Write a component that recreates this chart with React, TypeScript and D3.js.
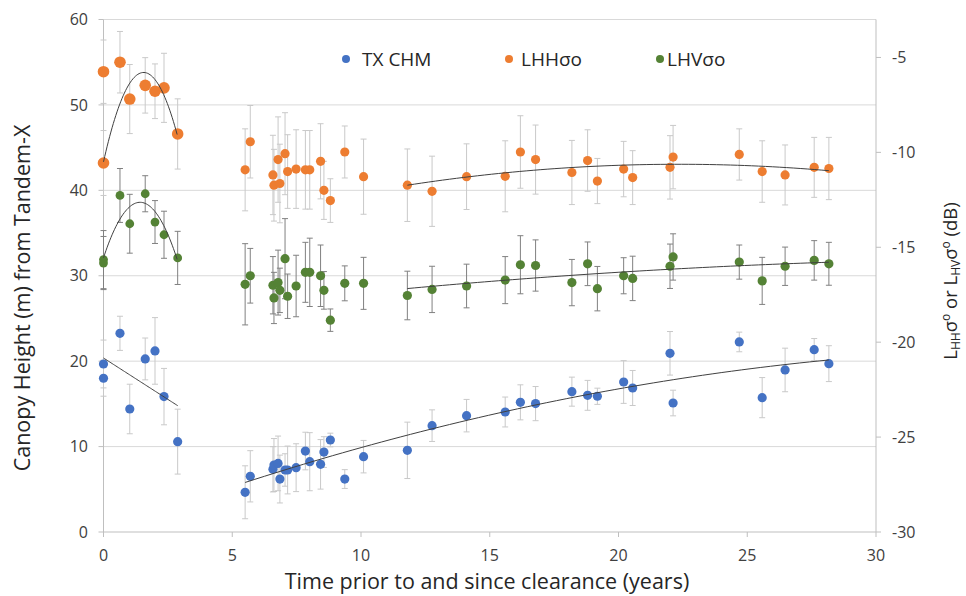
import React from "react";
import * as d3 from "d3";

// ---------- data ----------
const xTicks = [0, 5, 10, 15, 20, 25, 30];
const leftTicks = [0, 10, 20, 30, 40, 50, 60];
const rightTicks = [-30, -25, -20, -15, -10, -5];

const earlyX = [0, 0, 0.64, 1.02, 1.62, 2.0, 2.35, 2.88];
const lateX = [5.5, 5.7, 6.58, 6.62, 6.78, 6.85, 7.05, 7.15, 7.48, 7.84, 8.01, 8.43, 8.56, 8.81, 9.37, 10.1, 11.8, 12.76, 14.1, 15.6, 16.19, 16.78, 18.19, 18.8, 19.18, 20.2, 20.55, 22.0, 22.12, 24.69, 25.58, 26.47, 27.6, 28.17];

// TX CHM canopy height (m) - left axis
const chmEarly = [19.67, 18.0, 23.26, 14.4, 20.26, 21.2, 15.85, 10.58];
const chmEarlyErr = [2.8, 2.1, 2.0, 2.9, 2.45, 3.9, 3.3, 3.8];
const chmLate = [4.65, 6.52, 7.34, 7.84, 8.03, 6.2, 7.26, 7.26, 7.53, 9.48, 8.23, 7.92, 9.36, 10.77, 6.2, 8.82, 9.56, 12.45, 13.62, 14.05, 15.18, 15.03, 16.43, 16.0, 15.89, 17.56, 16.86, 20.92, 15.1, 22.25, 15.73, 18.97, 21.35, 19.71];
const chmLateErr = [3.1, 3.0, 2.65, 3.1, 3.2, 2.8, 1.9, 2.8, 2.8, 2.2, 3.4, 2.9, 1.8, 0.8, 1.1, 1.9, 3.3, 1.85, 1.9, 1.75, 2.05, 2.0, 1.7, 1.75, 0.95, 2.5, 2.05, 2.55, 1.5, 1.15, 2.35, 2.55, 1.3, 2.1];

// LHH sigma0 (dB) - right axis
const lhhEarly = [-5.75, -10.56, -5.25, -7.19, -6.47, -6.78, -6.6, -9.03];
const lhhEarlyErr = [1.67, 1.71, 1.62, 1.82, 1.46, 1.44, 1.82, 1.85];
const lhhLate = [-10.92, -9.44, -11.19, -11.73, -10.38, -11.64, -10.07, -11.01, -10.88, -10.92, -10.92, -10.47, -12.0, -12.54, -9.98, -11.28, -11.73, -12.05, -11.28, -11.26, -9.98, -10.38, -11.06, -10.43, -11.51, -10.88, -11.33, -10.79, -10.25, -10.11, -11.01, -11.19, -10.79, -10.85];
const lhhLateErr = [2.16, 1.91, 2.09, 1.89, 2.25, 2.07, 2.16, 1.94, 2.07, 2.07, 2.07, 1.98, 1.53, 1.15, 1.37, 1.98, 1.91, 1.85, 1.73, 1.87, 1.91, 1.82, 1.69, 1.62, 1.19, 1.46, 1.42, 1.67, 1.67, 1.35, 1.62, 1.58, 1.58, 1.64];

// LHV sigma0 (dB) - right axis
const lhvEarly = [-15.65, -15.83, -12.27, -13.76, -12.18, -13.67, -14.34, -15.56];
const lhvEarlyErr = [1.53, 1.4, 1.42, 1.55, 0.95, 1.13, 1.24, 1.4];
const lhvLate = [-16.95, -16.5, -17.0, -17.67, -16.86, -17.27, -15.6, -17.58, -17.04, -16.32, -16.32, -16.5, -17.27, -18.84, -16.9, -16.9, -17.54, -17.22, -17.04, -16.73, -15.92, -15.96, -16.86, -15.87, -17.18, -16.5, -16.64, -16.0, -15.51, -15.78, -16.77, -16.0, -15.69, -15.87];
const lhvLateErr = [2.14, 1.44, 1.51, 1.35, 1.71, 1.17, 2.11, 1.17, 1.62, 1.58, 1.8, 1.62, 0.99, 0.59, 0.92, 1.37, 1.28, 1.22, 1.15, 1.24, 1.53, 1.35, 1.22, 1.15, 1.17, 0.95, 1.17, 1.17, 1.22, 0.9, 1.24, 1.01, 1.04, 1.13];

// polynomial trend lines: [xStart, xEnd], coefficients [c0, c1, c2]
const chmTrendEarly = { range: [0, 2.88], coef: [20.37, -1.937, 0] };
const chmTrendLate = { range: [5.5, 28.17], coef: [-0.012, 1.1396, -0.01506] };
const lhhTrendEarly = { range: [0, 2.86], coef: [-10.499, 6.037, -1.935] };
const lhhTrendLate = { range: [11.8, 28.17], coef: [-15.587, 0.4442, -0.009945] };
const lhvTrendEarly = { range: [0, 2.86], coef: [-15.554, 4.118, -1.45] };
const lhvTrendLate = { range: [11.8, 28.17], coef: [-18.985, 0.1822, -0.002439] };

const legendItems = ["TX CHM", "LHHσo", "LHVσo"];

// ---------- style ----------
const W = 966;
const H = 596;
const BLUE = "#4472C4";
const ORANGE = "#ED7D31";
const GREEN = "#548235";
const FONT = "'Open Sans', 'Noto Sans', sans-serif";

export default function App() {
  const x = d3.scaleLinear().domain([0, 30]).range([103.5, 876]);
  const yL = d3.scaleLinear().domain([0, 60]).range([532, 19.5]);
  const yR = d3.scaleLinear().domain([-30, -3]).range([532, 19.5]);

  const trendPath = (t: { range: number[]; coef: number[] }, y: d3.ScaleLinear<number, number>) => {
    const [a, b] = t.range;
    const pts = d3.range(0, 61).map((i) => a + ((b - a) * i) / 60);
    const line = d3
      .line<number>()
      .x((v) => x(v))
      .y((v) => y(t.coef[0] + t.coef[1] * v + t.coef[2] * v * v));
    return line(pts) || "";
  };

  const errBars = (xs: number[], vs: number[], es: number[], y: d3.ScaleLinear<number, number>, color: string, key: string) =>
    xs.map((xv, i) => {
      const cx = x(xv);
      const y1 = y(vs[i] + es[i]);
      const y2 = y(vs[i] - es[i]);
      return (
        <g key={key + i} stroke={color} strokeWidth={1}>
          <line x1={cx} x2={cx} y1={y1} y2={y2} />
          <line x1={cx - 3} x2={cx + 3} y1={y1} y2={y1} />
          <line x1={cx - 3} x2={cx + 3} y1={y2} y2={y2} />
        </g>
      );
    });

  const dots = (xs: number[], vs: number[], y: d3.ScaleLinear<number, number>, color: string, r: number, key: string) =>
    xs.map((xv, i) => <circle key={key + i} cx={x(xv)} cy={y(vs[i])} r={r} fill={color} />);

  const legendPos = [
    { mx: 346, tx: 362, color: BLUE },
    { mx: 509, tx: 521, color: ORANGE },
    { mx: 660, tx: 667, color: GREEN },
  ];

  return (
    <svg width={W} height={H} style={{ position: "absolute", left: 0, top: 0, background: "#fff" }} fontFamily={FONT}>
      <rect x={0} y={0} width={W} height={H} fill="#fff" />
      {/* gridlines */}
      {leftTicks.filter((t) => t > 0).map((t) => (
        <line key={"g" + t} x1={x(0)} x2={x(30)} y1={yL(t)} y2={yL(t)} stroke="#D9D9D9" strokeWidth={1} />
      ))}
      {/* axes */}
      <line x1={x(0)} x2={x(0)} y1={yL(60)} y2={yL(0)} stroke="#BFBFBF" />
      <line x1={x(30)} x2={x(30)} y1={yR(-3)} y2={yR(-30)} stroke="#BFBFBF" />
      <line x1={x(0)} x2={x(30)} y1={yL(0)} y2={yL(0)} stroke="#BFBFBF" />
      {leftTicks.map((t) => (
        <g key={"lt" + t}>
          <line x1={x(0) - 5} x2={x(0)} y1={yL(t)} y2={yL(t)} stroke="#BFBFBF" />
          <text x={88} y={yL(t)} dy="0.35em" textAnchor="end" fontSize={16} fill="#404040">{t}</text>
        </g>
      ))}
      {rightTicks.map((t) => (
        <g key={"rt" + t}>
          <line x1={x(30)} x2={x(30) + 5} y1={yR(t)} y2={yR(t)} stroke="#BFBFBF" />
          <text x={892} y={yR(t)} dy="0.35em" textAnchor="start" fontSize={16} fill="#404040">{t}</text>
        </g>
      ))}
      {xTicks.map((t) => (
        <g key={"xt" + t}>
          <line x1={x(t)} x2={x(t)} y1={yL(0)} y2={yL(0) + 5} stroke="#BFBFBF" />
          <text x={x(t)} y={561} textAnchor="middle" fontSize={16} fill="#404040">{t}</text>
        </g>
      ))}

      {/* error bars */}
      {errBars(earlyX, chmEarly, chmEarlyErr, yL, "#C9C9C9", "ce")}
      {errBars(lateX, chmLate, chmLateErr, yL, "#C9C9C9", "cl")}
      {errBars(earlyX, lhhEarly, lhhEarlyErr, yR, "#C9C9C9", "he")}
      {errBars(lateX, lhhLate, lhhLateErr, yR, "#C9C9C9", "hl")}
      {errBars(earlyX, lhvEarly, lhvEarlyErr, yR, "#808080", "ve")}
      {errBars(lateX, lhvLate, lhvLateErr, yR, "#808080", "vl")}

      {/* markers */}
      {dots(earlyX, chmEarly, yL, BLUE, 4.6, "dce")}
      {dots(lateX, chmLate, yL, BLUE, 4.6, "dcl")}
      {dots(earlyX, lhhEarly, yR, ORANGE, 5.8, "dhe")}
      {dots(lateX, lhhLate, yR, ORANGE, 4.6, "dhl")}
      {dots(earlyX, lhvEarly, yR, GREEN, 4.4, "dve")}
      {dots(lateX, lhvLate, yR, GREEN, 4.6, "dvl")}

      {/* trend lines */}
      <g fill="none" stroke="#404040" strokeWidth={1}>
        <path d={trendPath(chmTrendEarly, yL)} />
        <path d={trendPath(chmTrendLate, yL)} />
        <path d={trendPath(lhhTrendEarly, yR)} />
        <path d={trendPath(lhhTrendLate, yR)} />
        <path d={trendPath(lhvTrendEarly, yR)} />
        <path d={trendPath(lhvTrendLate, yR)} />
      </g>

      {/* legend */}
      {legendItems.map((name, i) => (
        <g key={"lg" + i}>
          <circle cx={legendPos[i].mx} cy={59} r={4} fill={legendPos[i].color} />
          <text x={legendPos[i].tx} y={59} dy="0.35em" fontSize={19} fill="#262626">{name}</text>
        </g>
      ))}

      {/* axis titles */}
      <text x={487} y={589} textAnchor="middle" fontSize={21.5} fill="#262626">Time prior to and since clearance (years)</text>
      <text transform="translate(30,298) rotate(-90)" textAnchor="middle" fontSize={21.5} fill="#262626">Canopy Height (m) from Tandem-X</text>
      <text transform="translate(957,281) rotate(-90)" textAnchor="middle" fontSize={18.5} fill="#262626">
        <tspan>L</tspan>
        <tspan fontSize={12} dy={3}>HH</tspan>
        <tspan dy={-3}>σ</tspan>
        <tspan fontSize={12} dy={-7}>o</tspan>
        <tspan dy={7}> or L</tspan>
        <tspan fontSize={12} dy={3}>HV</tspan>
        <tspan dy={-3}>σ</tspan>
        <tspan fontSize={12} dy={-7}>o</tspan>
        <tspan dy={7}> (dB)</tspan>
      </text>
    </svg>
  );
}
